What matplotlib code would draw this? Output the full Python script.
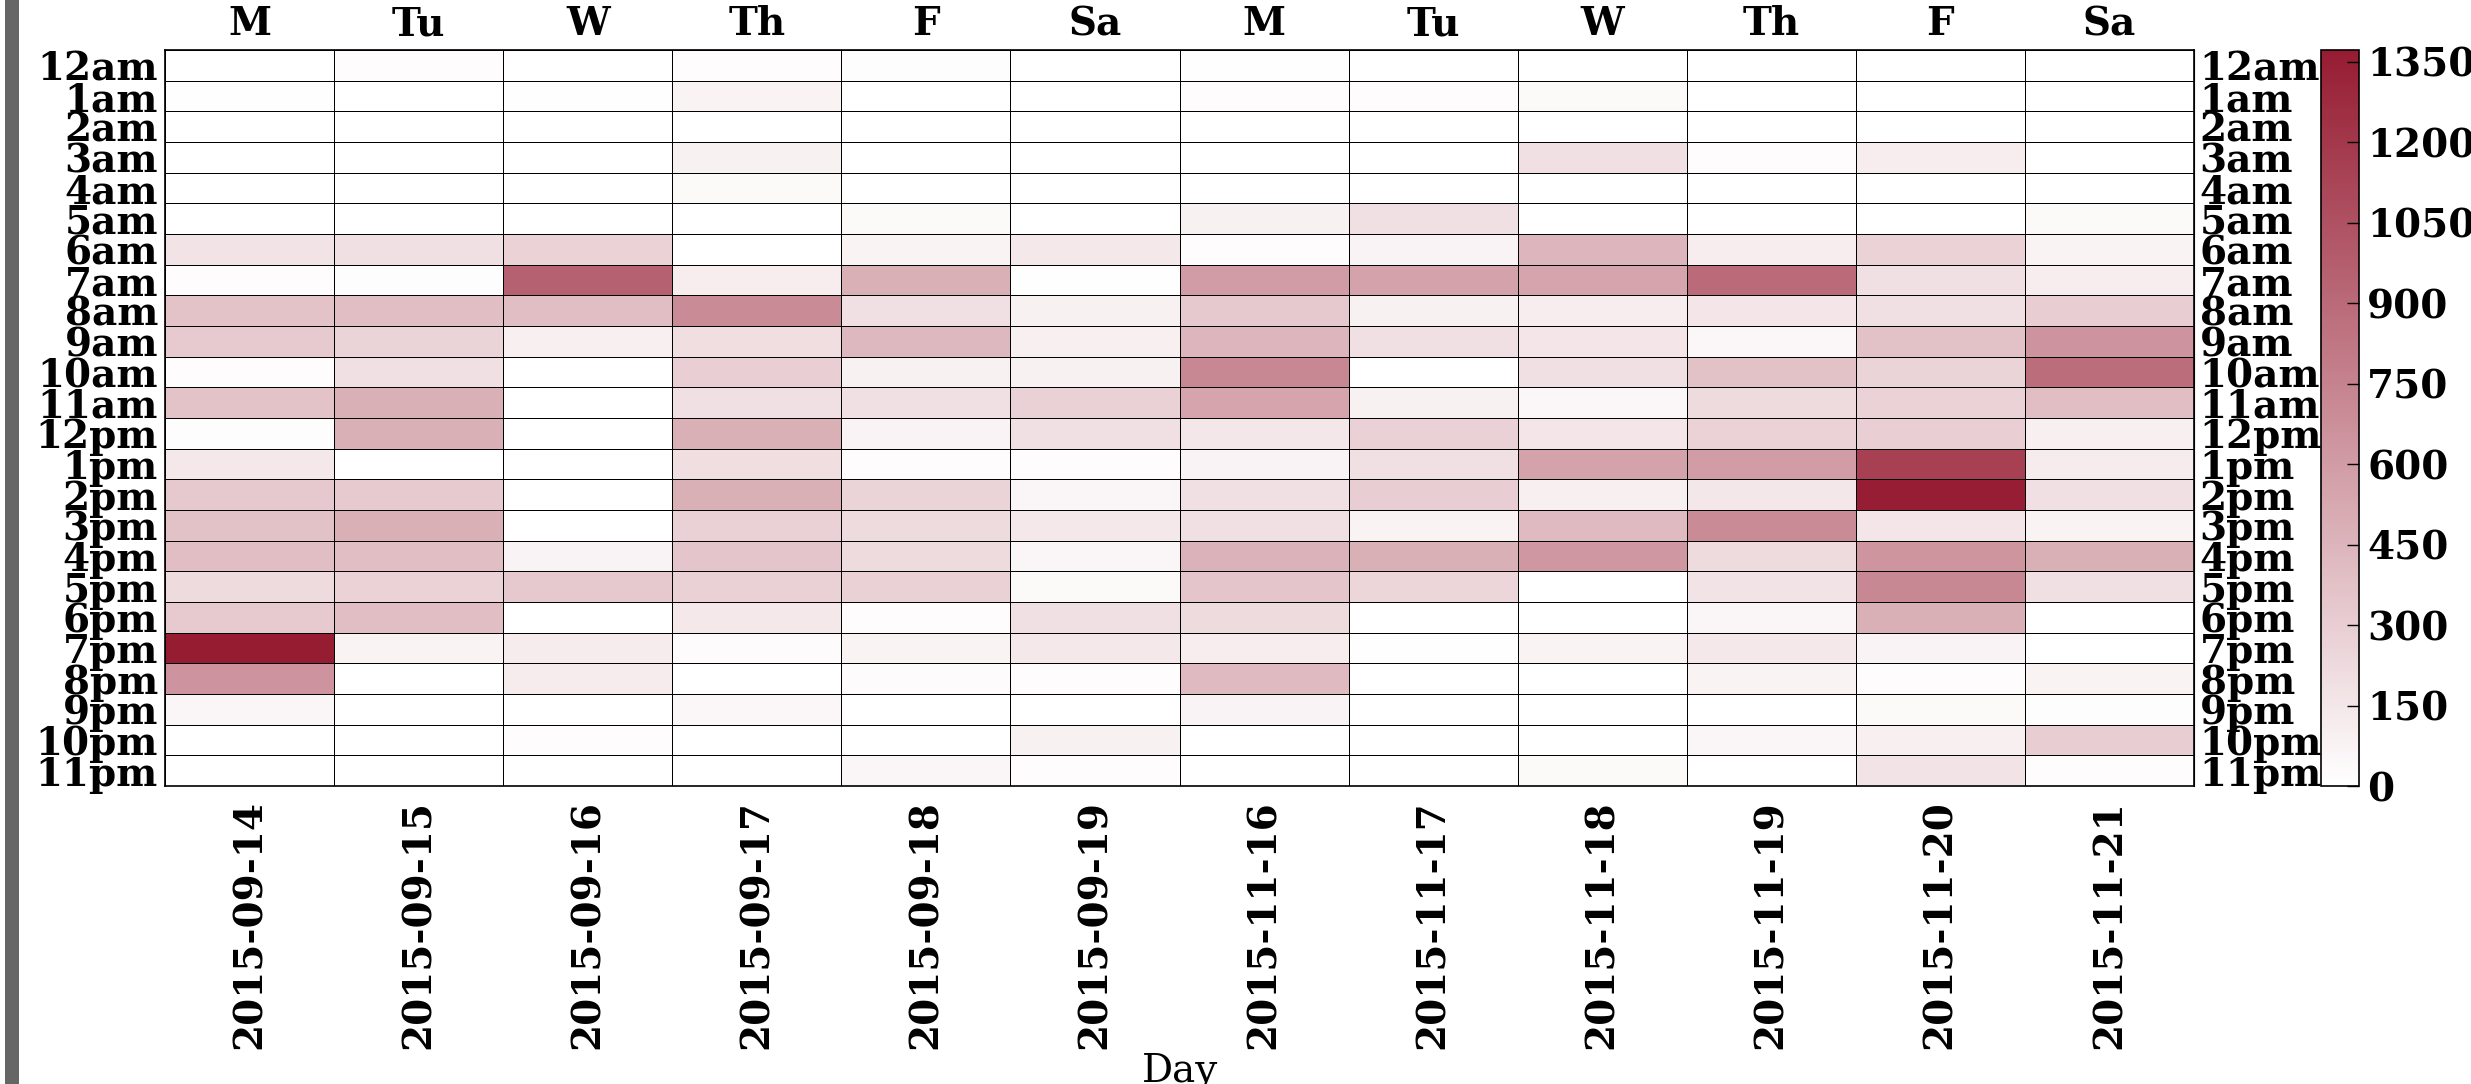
import numpy as np
import matplotlib
matplotlib.use("Agg")
import matplotlib.pyplot as plt
from matplotlib.colors import LinearSegmentedColormap
from matplotlib.patches import Rectangle

dates = ["2015-09-14", "2015-09-15", "2015-09-16", "2015-09-17", "2015-09-18", "2015-09-19",
         "2015-11-16", "2015-11-17", "2015-11-18", "2015-11-19", "2015-11-20", "2015-11-21"]
weekdays = ["M", "Tu", "W", "Th", "F", "Sa", "M", "Tu", "W", "Th", "F", "Sa"]
hours = ["12am", "1am", "2am", "3am", "4am", "5am", "6am", "7am", "8am", "9am", "10am", "11am",
         "12pm", "1pm", "2pm", "3pm", "4pm", "5pm", "6pm", "7pm", "8pm", "9pm", "10pm", "11pm"]

# rows = hours, columns = dates
counts = [
    [0, 20, 0, 20, 15, 0, 10, 0, 0, 0, 0, 0],
    [10, 0, 10, 80, 0, 0, 20, 20, 40, 0, 0, 0],
    [0, 0, 0, 0, 0, 0, 0, 0, 0, 0, 0, 0],
    [0, 0, 0, 90, 0, 0, 0, 0, 190, 20, 110, 0],
    [0, 0, 0, 40, 0, 0, 0, 0, 0, 0, 0, 0],
    [0, 0, 0, 0, 40, 0, 90, 190, 0, 0, 0, 40],
    [170, 190, 270, 0, 80, 140, 20, 70, 450, 110, 270, 80],
    [20, 15, 950, 110, 480, 10, 600, 560, 550, 900, 190, 110],
    [370, 400, 400, 700, 190, 90, 330, 90, 110, 160, 190, 300],
    [320, 260, 100, 200, 430, 100, 450, 190, 160, 50, 380, 650],
    [20, 190, 0, 290, 90, 90, 720, 0, 190, 380, 260, 880],
    [370, 480, 0, 190, 190, 280, 550, 90, 50, 220, 270, 400],
    [15, 480, 0, 480, 70, 190, 150, 280, 160, 270, 290, 100],
    [140, 0, 0, 200, 20, 20, 70, 190, 560, 600, 1150, 120],
    [330, 320, 0, 480, 260, 60, 190, 300, 100, 150, 1365, 190],
    [380, 480, 0, 280, 220, 140, 190, 80, 420, 700, 160, 80],
    [400, 400, 70, 350, 220, 60, 470, 480, 630, 220, 640, 480],
    [220, 270, 330, 280, 280, 40, 350, 250, 0, 170, 720, 190],
    [320, 400, 0, 140, 20, 190, 220, 0, 0, 60, 480, 0],
    [1372, 80, 120, 30, 80, 140, 110, 10, 80, 140, 70, 0],
    [650, 0, 120, 0, 30, 20, 420, 0, 0, 80, 20, 80],
    [60, 0, 0, 50, 0, 0, 70, 0, 0, 0, 40, 15],
    [0, 0, 20, 0, 0, 90, 0, 0, 0, 60, 100, 300],
    [0, 0, 0, 0, 60, 20, 0, 0, 40, 0, 170, 20],
]
cbar_ticks = [0, 150, 300, 450, 600, 750, 900, 1050, 1200, 1350]

plt.rcParams["font.family"] = ["DejaVu Serif"]
FS = 28

data = np.array(counts, dtype=float)
cmap = LinearSegmentedColormap.from_list("wr", ["#ffffff", "#961c32"])

W, H = 2471, 1084
fig = plt.figure(figsize=(W / 100, H / 100), dpi=100)

# gray strip at left edge
fig.patches.append(Rectangle((5 / W, 0), 14 / W, 1, transform=fig.transFigure,
                             facecolor="#666666", edgecolor="none", zorder=0))

ax = fig.add_axes([165 / W, 1 - 786 / H, (2194 - 165) / W, (786 - 50) / H])
mesh = ax.pcolormesh(data, cmap=cmap, vmin=0, vmax=1372, edgecolors="k", linewidth=0.6)
ax.set_xlim(0, len(dates))
ax.set_ylim(len(hours), 0)

xpos = np.arange(len(dates)) + 0.5
ypos = np.arange(len(hours)) + 0.5
ax.set_xticks(xpos)
ax.set_xticklabels(dates, rotation=90, fontsize=FS, fontweight="bold")
ax.set_yticks(ypos)
ax.set_yticklabels(hours, fontsize=FS, fontweight="bold")
ax.tick_params(axis="both", length=0)
ax.tick_params(axis="x", pad=10)
ax.tick_params(axis="y", pad=5)
for s in ax.spines.values():
    s.set_linewidth(1.2)

top = ax.secondary_xaxis("top")
top.set_xticks(xpos)
top.set_xticklabels(weekdays, fontsize=FS, fontweight="bold")
top.tick_params(length=0, pad=5)

right = ax.secondary_yaxis("right")
right.set_yticks(ypos)
right.set_yticklabels(hours, fontsize=FS, fontweight="bold")
right.tick_params(length=0, pad=4)

ax.set_xlabel("Day", fontsize=FS)
ax.xaxis.set_label_coords(0.5, -0.362)

cax = fig.add_axes([2321 / W, 1 - 786 / H, (2359 - 2321) / W, (786 - 50) / H])
cb = fig.colorbar(mesh, cax=cax)
cb.set_ticks(cbar_ticks)
cb.ax.tick_params(direction="in", length=9, width=1, pad=6, labelsize=FS)
for t in cb.ax.get_yticklabels():
    t.set_fontweight("bold")
cb.outline.set_linewidth(1.2)

fig.savefig("out.png", dpi=100)
